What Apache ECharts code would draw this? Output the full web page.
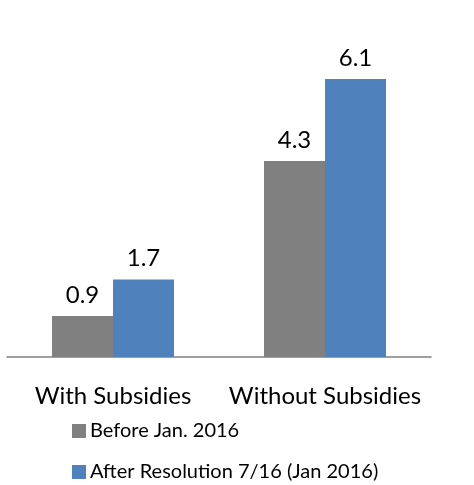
<!DOCTYPE html>
<html>
<head>
<meta charset="utf-8">
<style>html,body{margin:0;padding:0;background:#fff;}#c{width:474px;height:485px;}</style>
<script src="https://cdn.jsdelivr.net/npm/echarts@6/dist/echarts.min.js"></script>
</head>
<body>
<div id="c"></div>
<script>
const categories = ["With Subsidies", "Without Subsidies"];
const seriesNames = ["Before Jan. 2016", "After Resolution 7/16 (Jan 2016)"];
const beforeValues = [0.9, 4.3];
const afterValues = [1.7, 6.1];
const colors = ["#808080", "#4F81BD"];
const FONT = "Lato";

const chart = echarts.init(document.getElementById('c'));
const labelStyle = {show: true, position: 'top', distance: 9, fontFamily: FONT, fontSize: 24, color: '#000'};
chart.setOption({
  animation: false,
  grid: {left: 7, right: 43, top: 79, bottom: 128, containLabel: false},
  legend: {
    orient: 'vertical', left: 72, top: 421, height: 64, padding: 0,
    itemWidth: 14, itemHeight: 14, itemGap: 21,
    icon: 'rect', textStyle: {fontFamily: FONT, fontSize: 20, color: '#000', padding: [0, 0, 0, -1]},
    data: seriesNames
  },
  xAxis: {
    type: 'category', data: categories,
    axisLine: {lineStyle: {color: '#808080', width: 1.5}},
    axisTick: {show: false},
    axisLabel: {fontFamily: FONT, fontSize: 24, color: '#000', margin: 27, interval: 0}
  },
  yAxis: {type: 'value', min: 0, max: 6.1, show: false, splitLine: {show: false}},
  series: [
    {name: seriesNames[0], type: 'bar', data: beforeValues, barWidth: 61, barGap: '0%', itemStyle: {color: colors[0]}, label: labelStyle},
    {name: seriesNames[1], type: 'bar', data: afterValues, barWidth: 61, barGap: '0%', itemStyle: {color: colors[1]}, label: labelStyle}
  ]
});
</script>
</body>
</html>
